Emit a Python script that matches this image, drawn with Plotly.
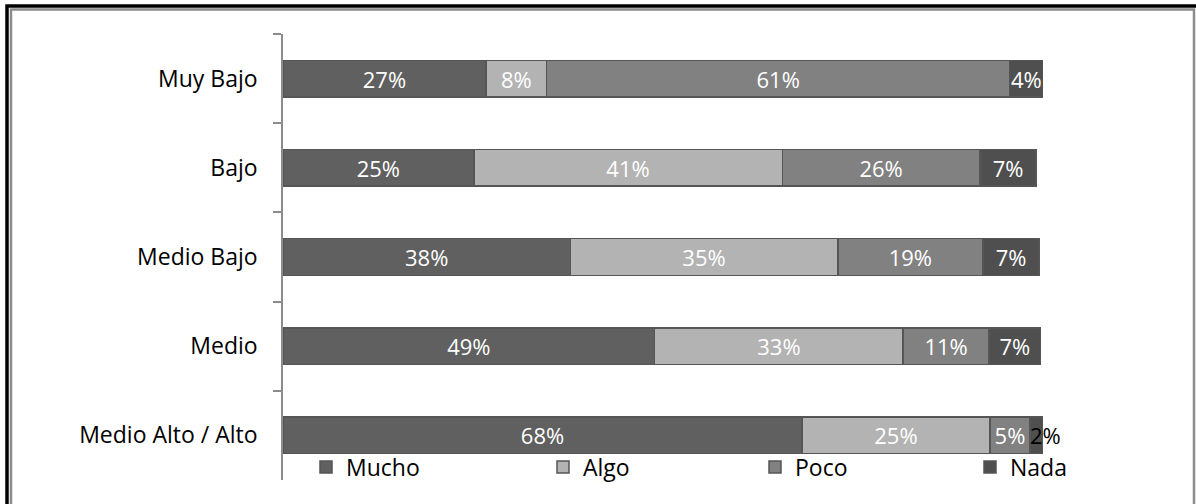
import plotly.graph_objects as go

categories = ["Muy Bajo", "Bajo", "Medio Bajo", "Medio", "Medio Alto / Alto"]
series_names = ["Mucho", "Algo", "Poco", "Nada"]
mucho = [0.267, 0.251, 0.378, 0.489, 0.683]
algo = [0.080, 0.406, 0.352, 0.327, 0.247]
poco = [0.609, 0.260, 0.191, 0.113, 0.053]
nada = [0.044, 0.074, 0.074, 0.068, 0.017]

colors = ["#606060", "#b3b3b3", "#818181", "#4f4f4f"]
FONT = "Open Sans, Noto Sans, sans-serif"
FS_LABEL = 22
FS_TICK = 23

W, H = 1196, 504
L, R, T, B = 283, 1043, 34, 480


def px(x):
    return (x - L) / (R - L)


def py(y):
    return (B - y) / (B - T)


fig = go.Figure()
legend_names = ["legend", "legend2", "legend3", "legend4"]
legend_text_x = [346, 583, 795, 1010]

for i, (name, vals) in enumerate(zip(series_names, [mucho, algo, poco, nada])):
    templates = ["%{x:.0%}"] * len(vals)
    if name == "Nada":
        templates[-1] = ""  # small last segment is labelled outside via annotation
    fig.add_trace(go.Bar(
        y=categories, x=vals, name=name, orientation="h",
        marker=dict(color=colors[i], line=dict(color="#555555", width=1.5)),
        width=0.41,
        texttemplate=templates,
        textposition="inside",
        insidetextanchor="middle",
        textangle=0,
        textfont=dict(color="white", size=FS_LABEL, family=FONT),
        constraintext="none",
        cliponaxis=False,
        legend=legend_names[i],
        hoverinfo="skip",
    ))

last = len(categories) - 1
row_total = mucho[last] + algo[last] + poco[last] + nada[last]
fig.add_annotation(
    x=row_total, y=categories[last], xref="x", yref="y",
    text=f"{nada[last]:.0%}", showarrow=False, xanchor="center", xshift=2,
    font=dict(color="black", size=FS_LABEL, family=FONT),
)

layout_legends = {}
for i, ln in enumerate(legend_names):
    layout_legends[ln] = dict(
        x=px(legend_text_x[i] - 40), y=py(467), xanchor="left", yanchor="middle",
        orientation="h", bgcolor="rgba(0,0,0,0)",
        font=dict(size=FS_TICK, family=FONT, color="black"),
        itemclick=False, itemdoubleclick=False,
    )

fig.update_layout(
    width=W, height=H,
    margin=dict(l=L, r=W - R, t=T, b=H - B, pad=0),
    barmode="stack",
    plot_bgcolor="white", paper_bgcolor="white",
    showlegend=True,
    xaxis=dict(range=[0, 1], visible=False, fixedrange=True),
    yaxis=dict(
        categoryorder="array", categoryarray=categories,
        range=[4.5, -0.5], tickson="boundaries",
        showline=True, linecolor="#8c8c8c", linewidth=1.5,
        ticks="outside", ticklen=8, tickcolor="#8c8c8c", tickwidth=1.5,
        showgrid=False, ticklabelstandoff=19,
        tickfont=dict(size=FS_TICK, family=FONT, color="black"),
        fixedrange=True,
    ),
    shapes=[
        dict(type="rect", xref="paper", yref="paper",
             x0=px(7), x1=px(1300), y0=py(6), y1=py(600),
             line=dict(color="black", width=3.5), fillcolor="rgba(0,0,0,0)", layer="above"),
        dict(type="rect", xref="paper", yref="paper",
             x0=px(11), x1=px(1194), y0=py(9.5), y1=py(600),
             line=dict(color="#8c8c8c", width=2.5), fillcolor="rgba(0,0,0,0)", layer="above"),
    ],
    **layout_legends,
)

fig.write_html(
    "out.html",
    config={"displayModeBar": False},
    post_script="document.body.style.margin='0';document.body.style.overflow='hidden';",
)
